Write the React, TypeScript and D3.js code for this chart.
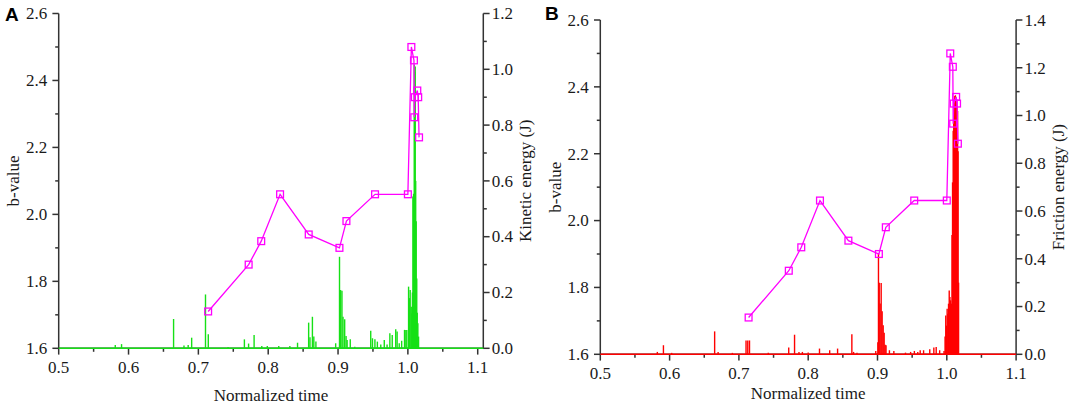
import React from "react";
import * as d3 from "d3";

// ---------- data ----------
const bTime = [0.714, 0.772, 0.790, 0.817, 0.858, 0.902, 0.912, 0.953, 1.000, 1.005, 1.0087, 1.0092, 1.0100, 1.0135, 1.0148, 1.0160];
const bValue = [1.71, 1.85, 1.92, 2.06, 1.94, 1.90, 1.98, 2.06, 2.06, 2.50, 2.46, 2.29, 2.35, 2.37, 2.35, 2.23];

const kineticTime = [
  0.581, 0.590, 0.6645, 0.6794, 0.6854, 0.6904, 0.7102, 0.7142, 0.7425, 0.7659, 0.7719, 0.7798,
  0.7908, 0.7987, 0.8151, 0.831, 0.842, 0.8579, 0.8598, 0.8633, 0.8653, 0.8683, 0.8966, 0.9021,
  0.9036, 0.9056, 0.9071, 0.9095, 0.9115, 0.913, 0.9175, 0.924, 0.9468, 0.9493, 0.9528, 0.9563,
  0.9612, 0.9662, 0.9702, 0.9742, 0.9776, 0.9826, 0.9846, 0.9876, 0.9911, 0.9952, 0.9971, 0.9985,
  1.001, 1.0022, 1.0033, 1.0048, 1.0057, 1.0065, 1.0072, 1.0082, 1.0091, 1.0099, 1.0105, 1.0112,
  1.0119, 1.0127, 1.0134, 1.0143, 1.0153,
];
const kineticEnergy = [
  0.012, 0.015, 0.105, 0.010, 0.012, 0.038, 0.193, 0.050, 0.005, 0.032, 0.017, 0.048,
  0.008, 0.008, 0.008, 0.008, 0.020, 0.092, 0.040, 0.113, 0.042, 0.024, 0.018, 0.328,
  0.209, 0.206, 0.113, 0.104, 0.044, 0.030, 0.032, 0.006, 0.063, 0.036, 0.032, 0.024,
  0.014, 0.030, 0.014, 0.054, 0.048, 0.068, 0.060, 0.018, 0.027, 0.066, 0.066, 0.066,
  0.221, 0.180, 0.209, 0.149, 0.125, 0.200, 0.544, 0.554, 1.017, 0.990, 1.010, 0.600,
  0.455, 0.250, 0.127, 0.090, 0.042,
];

const frictionTime = [
  0.5823, 0.5911, 0.603, 0.665, 0.670, 0.6906, 0.7103, 0.7128, 0.7153, 0.7424, 0.7719, 0.7803,
  0.7867, 0.7916, 0.800, 0.8163, 0.831, 0.8424, 0.863, 0.8655, 0.8704, 0.8975, 0.9005, 0.9014,
  0.9025, 0.9038, 0.9053, 0.9067, 0.9082, 0.9096, 0.911, 0.9123, 0.9172, 0.9236, 0.9404, 0.9478,
  0.9532, 0.9581, 0.9616, 0.9665, 0.9754, 0.9813, 0.9847, 0.9897, 0.996, 0.9975, 0.9985, 0.9995,
  1.0005, 1.0015, 1.0025, 1.0035, 1.0045, 1.0055, 1.0065, 1.0075, 1.0083, 1.0092, 1.0100, 1.0108,
  1.0116, 1.0124, 1.0132, 1.0140, 1.0148, 1.0156, 1.0163, 1.0170,
];
const frictionEnergy = [
  0.010, 0.038, 0.006, 0.096, 0.010, 0.006, 0.058, 0.058, 0.058, 0.007, 0.028, 0.082,
  0.010, 0.010, 0.008, 0.024, 0.017, 0.024, 0.084, 0.010, 0.007, 0.014, 0.050, 0.422,
  0.300, 0.213, 0.299, 0.180, 0.122, 0.090, 0.040, 0.038, 0.017, 0.014, 0.007, 0.010,
  0.014, 0.010, 0.017, 0.017, 0.021, 0.028, 0.031, 0.017, 0.014, 0.075, 0.163, 0.120,
  0.191, 0.170, 0.212, 0.267, 0.240, 0.226, 0.212, 0.500, 0.720, 0.936, 1.006, 1.060,
  1.082, 1.085, 1.075, 1.061, 1.040, 1.019, 0.850, 0.300,
];

const xTicks = [0.5, 0.6, 0.7, 0.8, 0.9, 1.0, 1.1];
const xMinorTicks = [0.55, 0.65, 0.75, 0.85, 0.95, 1.05];
const bTicks = [1.6, 1.8, 2.0, 2.2, 2.4, 2.6];
const bMinorTicks = [1.7, 1.9, 2.1, 2.3, 2.5];
const kineticTicks = [0, 0.2, 0.4, 0.6, 0.8, 1.0, 1.2];
const kineticMinorTicks = [0.1, 0.3, 0.5, 0.7, 0.9, 1.1];
const frictionTicks = [0, 0.2, 0.4, 0.6, 0.8, 1.0, 1.2, 1.4];
const frictionMinorTicks = [0.1, 0.3, 0.5, 0.7, 0.9, 1.1, 1.3];

// ---------- drawing ----------
const AXIS = "#333333";
const TEXT = "#1a1a1a";
const SERIF = "Liberation Serif, Times New Roman, serif";
const SANS = "Liberation Sans, Arial, sans-serif";
const fmt = d3.format(".1f");

type PanelProps = {
  left: number; right: number; top: number; bottom: number;
  xMax: number; eMax: number;
  eTicks: number[]; eMinor: number[];
  times: number[]; energies: number[];
  color: string;
  letter: string; letterX: number; letterY: number;
  rightTitle: string;
  leftTitleX: number; rightTitleX: number; xTitleY: number;
};

function Panel(p: PanelProps) {
  const x = d3.scaleLinear().domain([0.5, p.xMax]).range([p.left, p.right]);
  const yb = d3.scaleLinear().domain([1.6, 2.6]).range([p.bottom, p.top]);
  const ye = d3.scaleLinear().domain([0, p.eMax]).range([p.bottom, p.top]);
  const midY = (p.top + p.bottom) / 2;
  const midX = (p.left + p.right) / 2;
  const line = d3.line<number>().x((_, i) => x(bTime[i])).y((d) => yb(d));
  const MAJ = 6.3, MIN = 3.5, SQ = 6.8;
  const T = { fontFamily: SERIF, fontSize: 17, fill: TEXT };

  return (
    <g>
      {/* axes */}
      <g stroke={AXIS} strokeWidth={1.5} fill="none">
        <line x1={p.left} x2={p.left} y1={p.top} y2={p.bottom + 0.75} />
        <line x1={p.right} x2={p.right} y1={p.top} y2={p.bottom + 0.75} />
        <line x1={p.left} x2={p.right} y1={p.bottom} y2={p.bottom} />
        {xTicks.map((t) => (
          <line key={"xt" + t} x1={x(t)} x2={x(t)} y1={p.bottom} y2={p.bottom + MAJ} />
        ))}
        {xMinorTicks.map((t) => (
          <line key={"xm" + t} x1={x(t)} x2={x(t)} y1={p.bottom} y2={p.bottom + MIN} />
        ))}
        {bTicks.map((t) => (
          <line key={"bt" + t} x1={p.left - MAJ} x2={p.left} y1={yb(t)} y2={yb(t)} />
        ))}
        {bMinorTicks.map((t) => (
          <line key={"bm" + t} x1={p.left - MIN} x2={p.left} y1={yb(t)} y2={yb(t)} />
        ))}
        {p.eTicks.map((t) => (
          <line key={"et" + t} x1={p.right} x2={p.right + MAJ} y1={ye(t)} y2={ye(t)} />
        ))}
        {p.eMinor.map((t) => (
          <line key={"em" + t} x1={p.right} x2={p.right + MIN} y1={ye(t)} y2={ye(t)} />
        ))}
      </g>

      {/* energy spikes */}
      <g stroke={p.color} strokeWidth={1.4}>
        <line x1={x(0.5)} x2={x(p.xMax)} y1={ye(0)} y2={ye(0)} strokeWidth={1.6} />
        {p.times.map((t, i) => (
          <line key={"s" + i} x1={x(t)} x2={x(t)} y1={ye(0)} y2={ye(p.energies[i])} />
        ))}
      </g>

      {/* b-value line */}
      <path d={line(bValue) || ""} fill="none" stroke="#ff00ff" strokeWidth={1.3} />
      <g fill="none" stroke="#ff00ff" strokeWidth={1.3}>
        {bValue.map((v, i) => (
          <rect key={"q" + i} x={x(bTime[i]) - SQ / 2} y={yb(v) - SQ / 2} width={SQ} height={SQ} />
        ))}
      </g>

      {/* tick labels */}
      {xTicks.map((t) => (
        <text key={"xl" + t} {...T} x={x(t)} y={p.bottom + 25} textAnchor="middle">{fmt(t)}</text>
      ))}
      {bTicks.map((t) => (
        <text key={"bl" + t} {...T} x={p.left - 11.5} y={yb(t)} dy="0.34em" textAnchor="end">{fmt(t)}</text>
      ))}
      {p.eTicks.map((t) => (
        <text key={"el" + t} {...T} x={p.right + 8.5} y={ye(t)} dy="0.34em" textAnchor="start">{fmt(t)}</text>
      ))}
      <text {...T} x={midX} y={p.xTitleY} textAnchor="middle">Normalized time</text>
      <text {...T} transform={`translate(${p.leftTitleX},${midY}) rotate(-90)`} textAnchor="middle">b-value</text>
      <text {...T} transform={`translate(${p.rightTitleX},${midY}) rotate(-90)`} textAnchor="middle">{p.rightTitle}</text>
      <text x={p.letterX} y={p.letterY} fontFamily={SANS} fontWeight="bold" fontSize={19} fill="#000">{p.letter}</text>
    </g>
  );
}

export default function App() {
  return (
    <svg width={1072} height={408} style={{ position: "absolute", left: 0, top: 0, background: "#fff" }}>
      <rect x={0} y={0} width={1072} height={408} fill="#fff" />
      <Panel
        left={58.7} right={483.3} top={13.5} bottom={348.3}
        xMax={1.108} eMax={1.2}
        eTicks={kineticTicks} eMinor={kineticMinorTicks}
        times={kineticTime} energies={kineticEnergy}
        color="#16e016"
        letter="A" letterX={5} letterY={21}
        rightTitle="Kinetic energy (J)"
        leftTitleX={19} rightTitleX={531} xTitleY={401}
      />
      <Panel
        left={600.3} right={1016.1} top={20} bottom={354.3}
        xMax={1.1} eMax={1.4}
        eTicks={frictionTicks} eMinor={frictionMinorTicks}
        times={frictionTime} energies={frictionEnergy}
        color="#ff0000"
        letter="B" letterX={545} letterY={20}
        rightTitle="Friction energy (J)"
        leftTitleX={561} rightTitleX={1064} xTitleY={399}
      />
    </svg>
  );
}
